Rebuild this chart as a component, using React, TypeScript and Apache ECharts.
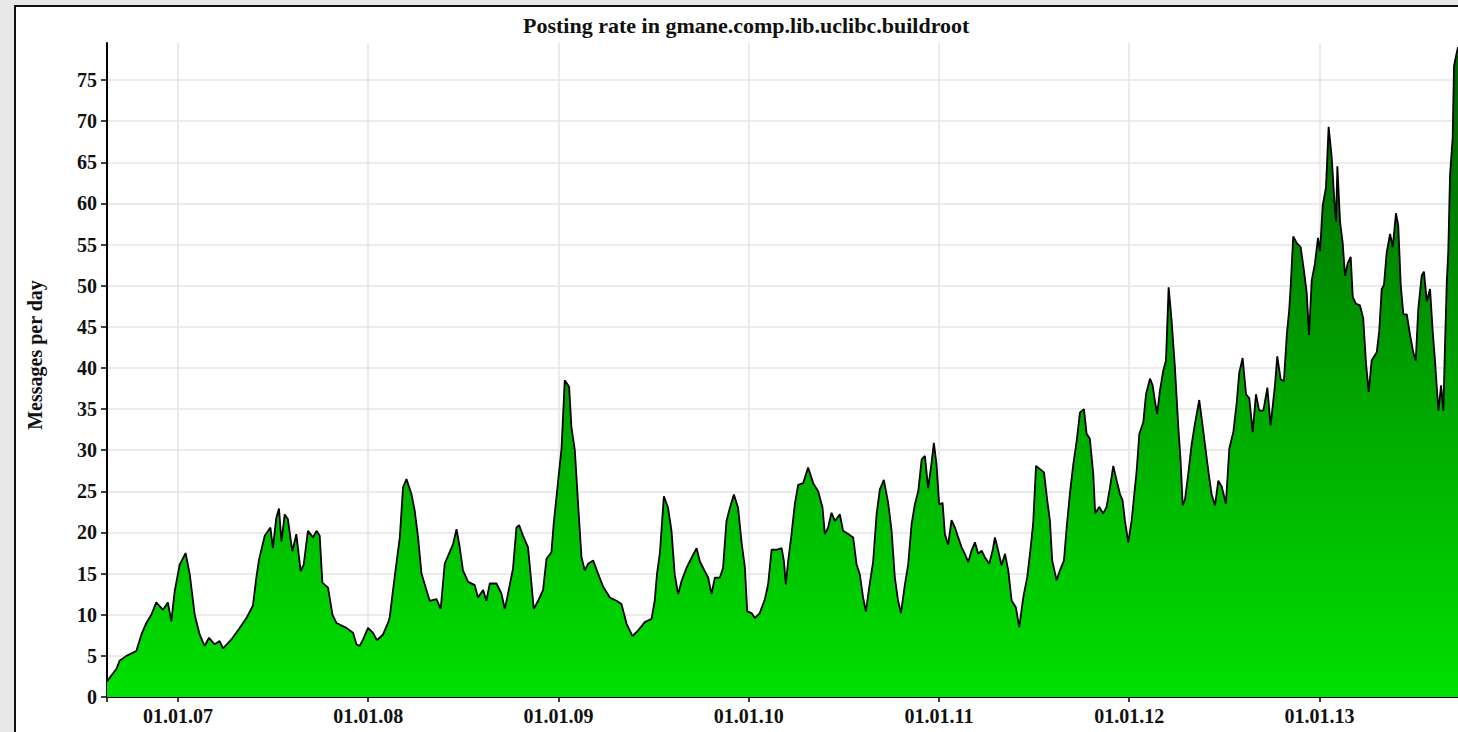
import React, { useEffect, useRef } from "react";
import * as echarts from "echarts";

const chartTitle = "Posting rate in gmane.comp.lib.uclibc.buildroot";
const yAxisTitle = "Messages per day";

// x values: fractional years (2007.0 = 01.01.07)
const postingYears = [
  2006.627, 2006.676, 2006.693, 2006.729, 2006.781, 2006.808, 2006.834, 2006.860, 2006.886, 2006.921,
  2006.947, 2006.965, 2006.983, 2007.009, 2007.040, 2007.062, 2007.088, 2007.114, 2007.140, 2007.163,
  2007.193, 2007.219, 2007.237, 2007.281, 2007.324, 2007.360, 2007.394, 2007.412, 2007.426, 2007.456,
  2007.486, 2007.499, 2007.517, 2007.531, 2007.544, 2007.561, 2007.578, 2007.601, 2007.622, 2007.645,
  2007.661, 2007.683, 2007.710, 2007.728, 2007.745, 2007.759, 2007.789, 2007.812, 2007.833, 2007.885,
  2007.920, 2007.938, 2007.955, 2007.973, 2007.999, 2008.025, 2008.046, 2008.078, 2008.104, 2008.113,
  2008.139, 2008.166, 2008.183, 2008.201, 2008.227, 2008.244, 2008.262, 2008.280, 2008.306, 2008.323,
  2008.359, 2008.381, 2008.402, 2008.428, 2008.446, 2008.464, 2008.481, 2008.498, 2008.525, 2008.560,
  2008.577, 2008.604, 2008.621, 2008.639, 2008.674, 2008.700, 2008.718, 2008.735, 2008.761, 2008.779,
  2008.793, 2008.814, 2008.840, 2008.858, 2008.870, 2008.893, 2008.919, 2008.937, 2008.963, 2008.975,
  2008.993, 2009.016, 2009.033, 2009.056, 2009.068, 2009.086, 2009.103, 2009.121, 2009.138, 2009.156,
  2009.182, 2009.208, 2009.235, 2009.270, 2009.305, 2009.331, 2009.358, 2009.389, 2009.419, 2009.454,
  2009.489, 2009.506, 2009.518, 2009.533, 2009.554, 2009.576, 2009.594, 2009.611, 2009.629, 2009.647,
  2009.673, 2009.699, 2009.726, 2009.743, 2009.769, 2009.787, 2009.804, 2009.822, 2009.848, 2009.865,
  2009.883, 2009.901, 2009.922, 2009.944, 2009.962, 2009.980, 2009.992, 2010.015, 2010.032, 2010.058,
  2010.085, 2010.102, 2010.120, 2010.146, 2010.173, 2010.185, 2010.195, 2010.207, 2010.225, 2010.242,
  2010.260, 2010.286, 2010.312, 2010.339, 2010.365, 2010.388, 2010.400, 2010.417, 2010.435, 2010.453,
  2010.479, 2010.496, 2010.523, 2010.549, 2010.567, 2010.584, 2010.601, 2010.616, 2010.633, 2010.654,
  2010.672, 2010.689, 2010.710, 2010.733, 2010.751, 2010.768, 2010.785, 2010.800, 2010.821, 2010.838,
  2010.856, 2010.873, 2010.891, 2010.909, 2010.926, 2010.943, 2010.961, 2010.973, 2010.987, 2011.001,
  2011.019, 2011.031, 2011.048, 2011.066, 2011.084, 2011.101, 2011.119, 2011.136, 2011.154, 2011.171,
  2011.189, 2011.206, 2011.224, 2011.241, 2011.264, 2011.282, 2011.294, 2011.311, 2011.329, 2011.347,
  2011.364, 2011.382, 2011.404, 2011.422, 2011.443, 2011.464, 2011.482, 2011.495, 2011.510, 2011.531,
  2011.552, 2011.569, 2011.583, 2011.595, 2011.618, 2011.636, 2011.657, 2011.671, 2011.688, 2011.706,
  2011.723, 2011.741, 2011.762, 2011.776, 2011.793, 2011.811, 2011.821, 2011.842, 2011.863, 2011.881,
  2011.899, 2011.916, 2011.934, 2011.951, 2011.965, 2011.977, 2011.995, 2012.013, 2012.025, 2012.039,
  2012.053, 2012.074, 2012.088, 2012.109, 2012.123, 2012.135, 2012.147, 2012.161, 2012.179, 2012.193,
  2012.207, 2012.223, 2012.240, 2012.258, 2012.270, 2012.281, 2012.293, 2012.310, 2012.328, 2012.345,
  2012.368, 2012.381, 2012.398, 2012.415, 2012.433, 2012.451, 2012.468, 2012.486, 2012.508, 2012.526,
  2012.547, 2012.565, 2012.578, 2012.596, 2012.614, 2012.631, 2012.649, 2012.666, 2012.683, 2012.705,
  2012.726, 2012.743, 2012.766, 2012.778, 2012.796, 2012.813, 2012.828, 2012.841, 2012.849, 2012.862,
  2012.880, 2012.901, 2012.919, 2012.933, 2012.945, 2012.959, 2012.976, 2012.992, 2013.003, 2013.017,
  2013.034, 2013.048, 2013.064, 2013.078, 2013.087, 2013.094, 2013.108, 2013.122, 2013.134, 2013.148,
  2013.164, 2013.175, 2013.192, 2013.213, 2013.230, 2013.245, 2013.259, 2013.274, 2013.301, 2013.314,
  2013.327, 2013.339, 2013.353, 2013.371, 2013.385, 2013.402, 2013.414, 2013.427, 2013.441, 2013.459,
  2013.476, 2013.493, 2013.506, 2013.519, 2013.537, 2013.549, 2013.564, 2013.581, 2013.595, 2013.607,
  2013.625, 2013.639, 2013.651, 2013.660, 2013.669, 2013.677, 2013.686, 2013.700, 2013.707, 2013.721,
  2013.728,
];

const messagesPerDay = [
  1.9, 3.4, 4.4, 5.0, 5.6, 7.6, 9.0, 10.0, 11.5, 10.6,
  11.5, 9.2, 12.9, 16.1, 17.5, 14.9, 10.0, 7.6, 6.2, 7.2,
  6.4, 6.8, 5.9, 7.0, 8.4, 9.6, 11.1, 14.5, 16.7, 19.6,
  20.6, 18.1, 21.8, 22.9, 18.9, 22.2, 21.6, 17.7, 19.8, 15.3,
  16.1, 20.2, 19.4, 20.2, 19.6, 13.9, 13.3, 10.0, 9.0, 8.4,
  7.8, 6.4, 6.2, 7.0, 8.4, 7.8, 6.9, 7.6, 9.0, 9.7,
  14.6, 19.4, 25.5, 26.5, 24.7, 22.7, 19.4, 15.0, 13.0, 11.7,
  11.9, 10.7, 16.2, 17.6, 18.6, 20.4, 18.2, 15.4, 14.0, 13.6,
  12.1, 13.0, 11.7, 13.8, 13.8, 12.6, 10.7, 12.6, 15.6, 20.6,
  20.9, 19.6, 18.2, 13.8, 10.7, 11.7, 13.0, 16.8, 17.6, 21.1,
  25.1, 30.2, 38.5, 37.7, 32.8, 30.0, 23.5, 17.0, 15.4, 16.2,
  16.6, 15.0, 13.4, 12.1, 11.7, 11.3, 8.9, 7.4, 8.1, 9.1,
  9.5, 11.7, 15.0, 17.5, 24.4, 23.0, 20.2, 14.9, 12.5, 14.1,
  15.7, 16.9, 18.1, 16.5, 15.3, 14.5, 12.5, 14.5, 14.5, 15.7,
  21.4, 23.0, 24.6, 23.0, 18.9, 15.7, 10.4, 10.2, 9.6, 10.2,
  11.9, 13.7, 17.9, 17.9, 18.1, 16.5, 13.7, 16.5, 19.8, 23.4,
  25.8, 26.0, 27.9, 26.0, 25.0, 23.0, 19.8, 20.6, 22.4, 21.4,
  22.2, 20.2, 19.8, 19.4, 16.1, 14.9, 12.1, 10.4, 13.3, 16.5,
  22.2, 25.2, 26.4, 23.6, 20.2, 14.5, 11.7, 10.2, 13.7, 16.1,
  21.0, 23.4, 25.0, 28.9, 29.3, 25.4, 28.5, 30.9, 28.3, 23.4,
  23.6, 19.8, 18.5, 21.5, 20.6, 19.4, 18.2, 17.4, 16.4, 17.8,
  18.8, 17.4, 17.8, 17.0, 16.2, 17.8, 19.4, 17.8, 16.0, 17.4,
  15.4, 11.7, 10.9, 8.5, 12.1, 14.6, 18.2, 21.1, 28.1, 27.7,
  27.3, 23.9, 21.5, 16.6, 14.2, 15.4, 16.6, 20.6, 24.7, 28.3,
  31.0, 34.6, 35.0, 32.0, 31.4, 27.1, 22.3, 23.1, 22.3, 23.1,
  25.5, 28.1, 26.3, 24.7, 23.9, 21.5, 18.8, 21.5, 24.3, 27.5,
  32.0, 33.4, 36.8, 38.7, 37.9, 36.0, 34.4, 37.2, 39.7, 40.9,
  49.8, 45.7, 40.1, 32.8, 28.7, 23.3, 24.0, 27.1, 30.7, 33.2,
  36.1, 33.8, 30.7, 27.6, 24.6, 23.3, 26.3, 25.6, 23.5, 30.2,
  32.2, 35.8, 39.4, 41.2, 36.8, 36.3, 32.2, 36.8, 34.8, 34.8,
  37.6, 33.0, 37.9, 41.4, 38.6, 38.4, 44.0, 47.1, 50.1, 56.0,
  55.2, 54.7, 51.7, 49.1, 44.0, 50.6, 52.7, 55.8, 54.2, 59.8,
  61.9, 69.3, 65.7, 60.4, 57.8, 64.5, 57.8, 55.2, 51.2, 52.7,
  53.5, 48.6, 47.8, 47.6, 46.0, 40.4, 37.1, 40.9, 41.9, 44.5,
  49.6, 50.1, 54.0, 56.3, 54.7, 58.8, 57.3, 50.1, 46.5, 46.5,
  44.0, 41.9, 40.9, 47.1, 51.2, 51.7, 48.1, 49.6, 44.5, 40.9,
  34.8, 37.9, 34.8, 43.0, 50.4, 54.2, 63.4, 68.0, 76.7, 78.3,
  79.0,
];

const xTickYears = [2007, 2008, 2009, 2010, 2011, 2012, 2013];
const yTickValues = [0, 5, 10, 15, 20, 25, 30, 35, 40, 45, 50, 55, 60, 65, 70, 75];
const xRange = [2006.627, 2013.728];
const yRange = [0, 79.5];

const FONT = '"Liberation Serif", "Times New Roman", serif';

export default function App() {
  const ref = useRef<HTMLDivElement>(null);

  useEffect(() => {
    document.body.style.margin = "0";
    if (!ref.current) return;
    const chart = echarts.init(ref.current, null, { renderer: "svg" });
    const seriesData = postingYears.map((x, i) => [x, messagesPerDay[i]]);

    chart.setOption({
      animation: false,
      backgroundColor: "#ffffff",
      title: {
        text: chartTitle,
        left: 507,
        top: 7,
        padding: 0,
        textStyle: { fontFamily: FONT, fontWeight: "bold", fontSize: 22, color: "#111" },
      },
      graphic: [
        {
          type: "text",
          x: 19,
          y: 348,
          rotation: Math.PI / 2,
          style: {
            text: yAxisTitle,
            font: `bold 20px ${FONT}`,
            fill: "#111",
            textAlign: "center",
            textVerticalAlign: "middle",
          },
        },
      ],
      grid: { left: 91, right: 0, top: 36, bottom: 35 },
      xAxis: {
        type: "value",
        min: xRange[0],
        max: xRange[1],
        axisLine: { show: true, onZero: false, lineStyle: { color: "#000", width: 2 } },
        axisTick: {
          show: true,
          length: 5,
          customValues: [xRange[0], ...xTickYears],
          lineStyle: { color: "#000", width: 1.5 },
        },
        axisLabel: {
          customValues: xTickYears,
          margin: 9,
          formatter: (v: number) => "01.01." + String(Math.round(v)).slice(2),
          fontFamily: FONT,
          fontWeight: "bold",
          fontSize: 20,
          color: "#111",
        },
        splitLine: { show: true, lineStyle: { color: "#e4e4e4", width: 1.5 } },
      },
      yAxis: {
        type: "value",
        min: yRange[0],
        max: yRange[1],
        axisLine: { show: true, lineStyle: { color: "#000", width: 2 } },
        axisTick: {
          show: true,
          length: 6,
          customValues: yTickValues,
          lineStyle: { color: "#000", width: 1.5 },
        },
        axisLabel: {
          customValues: yTickValues,
          margin: 10,
          fontFamily: FONT,
          fontWeight: "bold",
          fontSize: 20,
          color: "#111",
        },
        splitLine: { show: true, lineStyle: { color: "#e4e4e4", width: 1.5 } },
      },
      series: [
        {
          type: "line",
          data: seriesData,
          showSymbol: false,
          symbol: "none",
          lineStyle: { color: "#000", width: 1.8 },
          areaStyle: {
            opacity: 1,
            color: new echarts.graphic.LinearGradient(0, 0, 0, 1, [
              { offset: 0, color: "#006000" },
              { offset: 1, color: "#00e000" },
            ]),
          },
          z: 3,
        },
      ],
    });

    return () => chart.dispose();
  }, []);

  return (
    <div
      style={{
        position: "relative",
        width: 1458,
        height: 732,
        overflow: "hidden",
        background: "#e8e8e8",
      }}
    >
      <div
        ref={ref}
        style={{
          position: "absolute",
          left: 14,
          top: 5,
          width: 1442,
          height: 725,
          borderLeft: "2px solid #111",
          borderTop: "2px solid #111",
          background: "#fff",
        }}
      />
    </div>
  );
}
